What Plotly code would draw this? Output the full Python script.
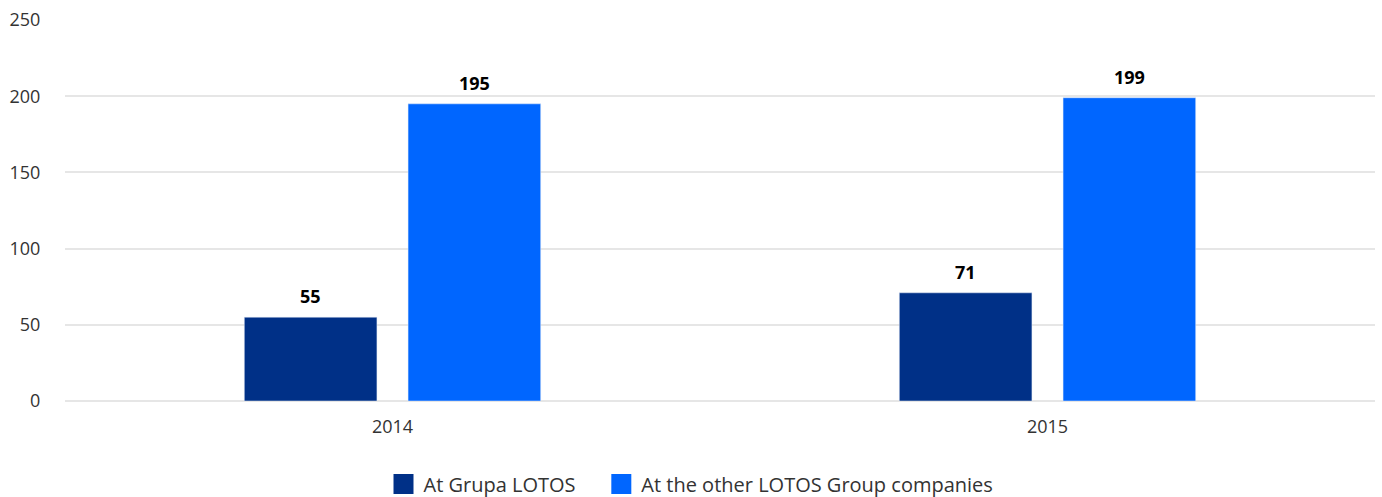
import plotly.graph_objects as go

years = ["2014", "2015"]
grupa_lotos = [55, 71]
other_companies = [195, 199]
series_names = ["At Grupa LOTOS", "At the other LOTOS Group companies"]
colors = ["#003087", "#0066FF"]

W, H = 1382, 497
ML, MR, MT, MB = 65, 7, 20, 96
BARGAP, GROUPGAP = 0.5, 0.19
NBSP = "\u00a0"

fig = go.Figure()
for k, (name, vals, col) in enumerate(zip(series_names, [grupa_lotos, other_companies], colors)):
    fig.add_trace(go.Bar(x=years, y=vals, name=name, marker_color=col, showlegend=False))
    # legend entry (no visible data); pad the label to widen the gap between entries
    label = name + (NBSP * 4 if k < len(series_names) - 1 else "")
    fig.add_trace(go.Scatter(x=[years[0]], y=[None], mode="markers", name=label,
                             marker=dict(symbol="square", size=16, color=col,
                                         line=dict(color=col, width=4))))

# value labels above bars (category axis: annotation x is the category index)
plot_w = W - ML - MR
cat_w = plot_w / len(years)
slot = (1 - BARGAP) * cat_w / 2
for k, vals in enumerate([grupa_lotos, other_companies]):
    shift = (k - 0.5) * slot
    for i, v in enumerate(vals):
        fig.add_annotation(x=i, y=v, xref="x", yref="y", text=f"<b>{v}</b>",
                           showarrow=False, yanchor="bottom", xshift=shift, yshift=7,
                           font=dict(family="Open Sans", size=18, color="#000000"))

fig.update_layout(
    width=W, height=H,
    margin=dict(l=ML, r=MR, t=MT, b=MB),
    paper_bgcolor="white", plot_bgcolor="white",
    font=dict(family="Open Sans", size=18, color="#333333"),
    barmode="group", bargap=BARGAP, bargroupgap=GROUPGAP,
    showlegend=True,
    legend=dict(orientation="h", x=0.5, xanchor="center", xref="container",
                y=13 / H, yanchor="middle", yref="container",
                font=dict(size=20, color="#333333"), itemwidth=30, itemsizing="trace",
                traceorder="normal"),
    xaxis=dict(type="category", categoryorder="array", categoryarray=years,
               range=[-0.5, len(years) - 0.5],
               showgrid=False, showline=False, zeroline=False, automargin=False,
               ticks="outside", ticklen=9, tickcolor="rgba(0,0,0,0)", tickfont=dict(size=18)),
    yaxis=dict(range=[0, 250], dtick=50, showgrid=True, gridcolor="#e6e6e6", gridwidth=2,
               zeroline=True, zerolinecolor="#e6e6e6", zerolinewidth=2, automargin=False,
               ticks="outside", ticklen=20, tickcolor="rgba(0,0,0,0)", tickfont=dict(size=18)),
)
fig.write_html("out.html", config={"displayModeBar": False},
               post_script="document.body.style.margin='0';document.body.style.overflow='hidden';")
